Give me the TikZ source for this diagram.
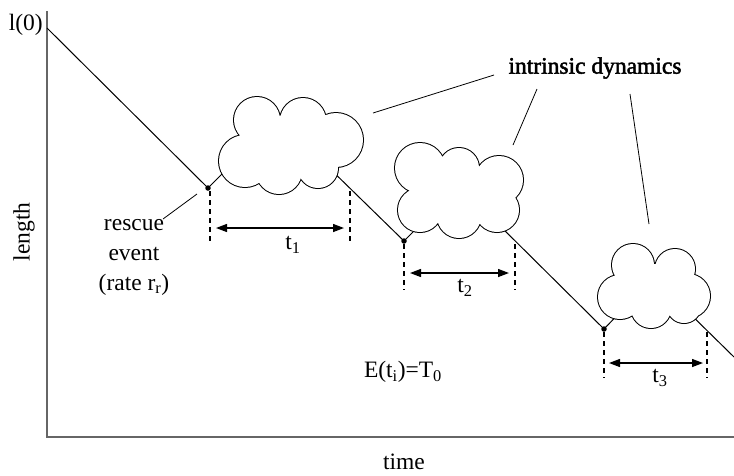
\documentclass[tikz,border=0pt]{standalone}
\usepackage{fontspec}
\setmainfont{Liberation Serif}
\newfontfamily\fbfont{Liberation Serif}[FakeBold=2]
\usetikzlibrary{arrows.meta}
\newcommand{\cloudpuffs}[1]{\draw[line width=2pt] #1; \fill[white] #1;}
\begin{document}
\begin{tikzpicture}[x=1pt,y=-1pt,
  font=\fontsize{23.5}{28}\selectfont,
  axis/.style={draw=black!60, line width=1.6pt},
  traj/.style={line width=1pt},
  callout/.style={line width=0.8pt},
  guide/.style={dash pattern=on 5pt off 4pt, line width=1.1pt},
  span/.style={line width=1.3pt, {Triangle[length=11pt,width=8pt]}-{Triangle[length=11pt,width=8pt]}},
  event/.style={circle, fill, inner sep=0pt, minimum size=5.5pt},
  lbl/.style={inner sep=0pt}]
\useasboundingbox (0,0) rectangle (734,475);
% axes
\coordinate (ytop) at (47,11);
\coordinate (orig) at (47,437);
\coordinate (xend) at (734,437);
\draw[axis] (ytop) -- (orig) -- (xend);
\node[lbl, anchor=east] (l0) at (43,25) {l(0)};
\node[lbl, rotate=90] (len) at (24,232) {length};
\node[lbl] (time) at (404,462) {time};
% trajectory points
\coordinate (start) at (47,28);
\node[event] (d1) at (208,188) {};
\node[event] (d2) at (404,241) {};
\node[event] (d3) at (604,329) {};
\coordinate (c1in) at (240,156);
\coordinate (c1out) at (320,159);
\coordinate (c2in) at (430,215);
\coordinate (c2out) at (490,216);
\coordinate (c3in) at (630,302);
\coordinate (c3out) at (680,304);
\coordinate (tend) at (734,357);
\draw[traj] (start) -- (d1.center) -- (c1in);
\draw[traj] (c1out) -- (d2.center) -- (c2in);
\draw[traj] (c2out) -- (d3.center) -- (c3in);
\draw[traj] (c3out) -- (tend);
% clouds
\cloudpuffs{(257,120) circle[radius=23] (303,121) circle[radius=23]
  (336,140) circle[radius=27] (318,168) circle[radius=20]
  (279,171) circle[radius=23] (245,161) circle[radius=26]
  (290,145) ellipse[x radius=45, y radius=30]}
\cloudpuffs{(420,168) circle[radius=25] (459,168) circle[radius=20]
  (499,180) circle[radius=24] (497,210) circle[radius=22]
  (459,216) circle[radius=22] (420,210) circle[radius=22]
  (459,192) ellipse[x radius=40, y radius=28]}
\cloudpuffs{(633,265) circle[radius=21] (675,269) circle[radius=20]
  (688,296) circle[radius=22] (684,306) circle[radius=17]
  (651,308) circle[radius=20] (620,297) circle[radius=22]
  (654,286) ellipse[x radius=35, y radius=22]}
% guides and spans
\coordinate (g1a) at (210,191); \coordinate (g1b) at (210,241);
\coordinate (g2a) at (350,191); \coordinate (g2b) at (350,241);
\coordinate (g3a) at (404,244); \coordinate (g3b) at (404,290);
\coordinate (g4a) at (515,244); \coordinate (g4b) at (515,290);
\coordinate (g5a) at (604,332); \coordinate (g5b) at (604,378);
\coordinate (g6a) at (707,332); \coordinate (g6b) at (707,378);
\draw[guide] (g1a) -- (g1b);
\draw[guide] (g2a) -- (g2b);
\draw[guide] (g3a) -- (g3b);
\draw[guide] (g4a) -- (g4b);
\draw[guide] (g5a) -- (g5b);
\draw[guide] (g6a) -- (g6b);
\coordinate (s1a) at (216,228); \coordinate (s1b) at (344,228);
\coordinate (s2a) at (410,273); \coordinate (s2b) at (509,273);
\coordinate (s3a) at (609,363); \coordinate (s3b) at (703,363);
\draw[span] (s1a) -- (s1b);
\draw[span] (s2a) -- (s2b);
\draw[span] (s3a) -- (s3b);
\node[lbl] (t1) at (293,245) {t\textsubscript{1}};
\node[lbl] (t2) at (465,288) {t\textsubscript{2}};
\node[lbl] (t3) at (660,378) {t\textsubscript{3}};
% labels
\node[lbl, align=center, font=\fontsize{23.5}{30}\selectfont] (resc) at (134,257) {rescue\\event\\(rate r\textsubscript{r})};
\coordinate (rl) at (163,219);
\draw[callout] (rl) -- (197,194);
\node[lbl] (E) at (403,372) {E(t\textsubscript{i})=T\textsubscript{0}};
\node[lbl] (id) at (595,68) {\fbfont intrinsic dynamics};
\coordinate (k1a) at (373,113); \coordinate (k1b) at (494,75);
\coordinate (k2a) at (513,145); \coordinate (k2b) at (537,89);
\coordinate (k3a) at (630,94); \coordinate (k3b) at (649,224);
\draw[callout] (k1a) -- (k1b);
\draw[callout] (k2a) -- (k2b);
\draw[callout] (k3a) -- (k3b);
\end{tikzpicture}
\end{document}
